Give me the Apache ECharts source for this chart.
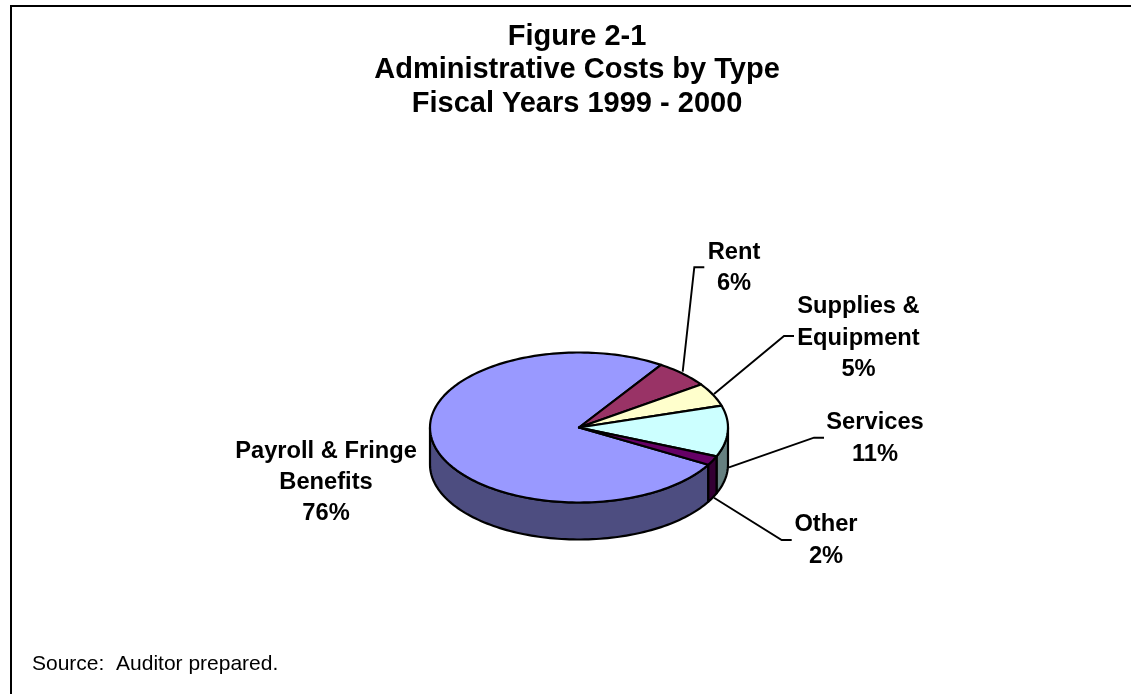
<!DOCTYPE html>
<html>
<head>
<meta charset="utf-8">
<style>html,body{margin:0;padding:0;background:#fff}#chart{width:1131px;height:694px}</style>
<script src="https://cdn.jsdelivr.net/npm/echarts@6/dist/echarts.min.js"></script>
</head>
<body>
<div id="chart"></div>
<script>
// Administrative cost shares, in percent
var categories = ['Payroll & Fringe\nBenefits', 'Rent', 'Supplies &\nEquipment', 'Services', 'Other'];
var shares = [76, 6, 5, 11, 2];

var topColors = ['#9999FF', '#993366', '#FFFFCC', '#CCFFFF', '#660066'];
var wallColors = ['#4D4D80', '#4D1A33', '#808066', '#668080', '#330033'];

// Disc geometry: centre, radii, wall height, start angle (degrees clockwise from 12 o'clock)
var disc = { cx: 579, cy: 427.5, rx: 149, ry: 75, depth: 37, start: 119.8 };

// Callout placement for each slice: leader polyline and label centre
var callouts = [
  { line: null, x: 326, y: 482.5 },
  { line: [[682.7, 371.7], [694.3, 267.3], [704.3, 267.3]], x: 734, y: 268 },
  { line: [[714, 394], [784, 336], [794, 336]], x: 858.5, y: 338 },
  { line: [[729, 467.3], [814, 437.7], [824, 437.7]], x: 875, y: 438.5 },
  { line: [[714, 497.7], [781.7, 540], [791.7, 540]], x: 826, y: 540.5 }
];

var FONT = '"Liberation Sans", Arial, sans-serif';
var TOTAL = shares.reduce(function (a, b) { return a + b; }, 0);

function rim(deg, dy) {
  var r = deg * Math.PI / 180;
  return [disc.cx + disc.rx * Math.sin(r), disc.cy - disc.ry * Math.cos(r) + (dy || 0)];
}
function arc(from, to, dy) {
  var pts = [];
  var steps = Math.max(2, Math.ceil(Math.abs(to - from) / 1.5));
  for (var i = 0; i <= steps; i++) pts.push(rim(from + (to - from) * i / steps, dy));
  return pts;
}

// Each data row is drawn as its wall (front half only), its top face and its callout
function renderSlice(params, api) {
  var i = params.dataIndex;
  var before = 0;
  for (var k = 0; k < i; k++) before += shares[k];
  var a0 = disc.start + before / TOTAL * 360;
  var a1 = a0 + api.value(1) / TOTAL * 360;
  var outline = { stroke: '#000', lineWidth: 2.2, lineJoin: 'round' };
  var children = [];

  // Front-facing walls lie between 90 and 270 degrees
  for (var turn = 0; turn <= 360; turn += 360) {
    var w0 = Math.max(a0, 90 + turn), w1 = Math.min(a1, 270 + turn);
    if (w1 > w0) {
      children.push({
        type: 'polygon', z2: 1,
        shape: { points: arc(w0, w1, 0).concat(arc(w1, w0, disc.depth)) },
        style: Object.assign({ fill: wallColors[i] }, outline)
      });
    }
  }

  children.push({
    type: 'polygon', z2: 2,
    shape: { points: [[disc.cx, disc.cy]].concat(arc(a0, a1, 0)) },
    style: Object.assign({ fill: topColors[i] }, outline)
  });

  var c = callouts[i];
  if (c.line) {
    children.push({
      type: 'polyline', z2: 3, shape: { points: c.line },
      style: { fill: 'none', stroke: '#000', lineWidth: 1.9 }
    });
  }
  children.push({
    type: 'text', z2: 4,
    style: {
      x: c.x, y: c.y, text: categories[i] + '\n' + api.value(1) + '%',
      align: 'center', verticalAlign: 'middle',
      font: 'bold 23.7px ' + FONT, lineHeight: 31.3, fill: '#000'
    }
  });
  return { type: 'group', children: children };
}

var chart = echarts.init(document.getElementById('chart'), null, { renderer: 'canvas' });
chart.setOption({
  animation: false,
  backgroundColor: '#fff',
  title: [{
    text: 'Figure 2-1\nAdministrative Costs by Type\nFiscal Years 1999 - 2000',
    left: 572, top: 15.5, textAlign: 'center',
    textStyle: { fontFamily: FONT, fontWeight: 'bold', fontSize: 29, lineHeight: 33.2, color: '#000' }
  }, {
    text: 'Source:  Auditor prepared.',
    left: 27, top: 648.5,
    textStyle: { fontFamily: FONT, fontWeight: 'normal', fontSize: 21, color: '#000' }
  }],
  graphic: [{
    type: 'polyline', silent: true,
    shape: { points: [[11, 694], [11, 6], [1131, 6]] },
    style: { fill: 'none', stroke: '#000', lineWidth: 2 }
  }],
  series: [{
    type: 'custom',
    coordinateSystem: 'none',
    renderItem: renderSlice,
    data: categories.map(function (name, i) { return [name, shares[i]]; }),
    encode: { itemName: 0, value: 1 }
  }]
});
</script>
</body>
</html>
